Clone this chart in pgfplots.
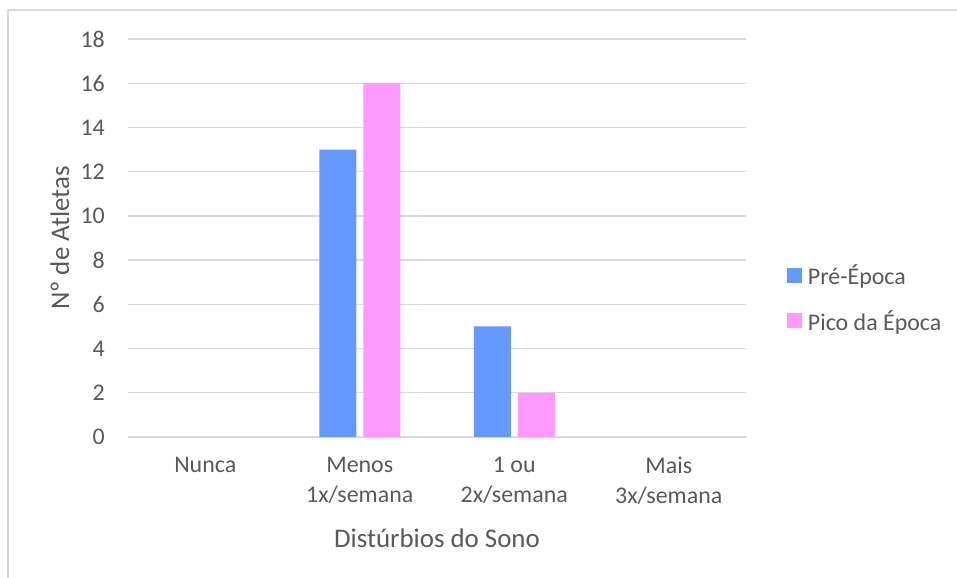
\documentclass[border=0pt]{standalone}
\usepackage{pgfplots}
\pgfplotsset{compat=1.18}
\usepackage{fontspec}
\setmainfont{Carlito}
\definecolor{preblue}{HTML}{6699FF}
\definecolor{picopink}{HTML}{FF99FF}
\definecolor{gridgray}{HTML}{D9D9D9}
\definecolor{textgray}{HTML}{595959}
\begin{document}
\begin{tikzpicture}[x=1bp,y=1bp]
	\useasboundingbox (0,0) rectangle (957,578);
	\draw[gridgray, line width=1.3bp] (8,-5) -- (8,568) -- (965,568);
	\begin{axis}[
		at={(128bp,141bp)}, anchor=south west,
		scale only axis, width=618bp, height=398bp,
		xmin=-0.5, xmax=3.5, ymin=0, ymax=18,
		ybar=7bp, bar width=37bp,
		axis lines*=left,
		y axis line style={draw=none},
		x axis line style={gridgray, line width=1.3bp},
		major tick length=0pt,
		ymajorgrids, grid style={gridgray, line width=1.3bp},
		xtick={0,1,2,3},
		xticklabels={Nunca, {Menos\\1x/semana}, {1 ou\\2x/semana}, {Mais\\3x/semana}},
		ytick={0,2,...,18},
		/pgf/number format/assume math mode=true,
		xticklabel style={align=center, font=\fontsize{24}{30}\selectfont, text=textgray, inner sep=0pt, yshift=-20bp},
		yticklabel style={font=\fontsize{24}{28}\selectfont, text=textgray, inner sep=0pt, xshift=-23bp},
		xlabel={Distúrbios do Sono},
		ylabel={Nº de Atletas},
		xlabel style={at={(axis description cs:0.5,-0.254)}, anchor=center, font=\fontsize{27}{32}\selectfont, text=textgray},
		ylabel style={at={(axis description cs:-0.1102,0.5)}, anchor=center, font=\fontsize{27}{32}\selectfont, text=textgray},
		legend style={at={(axis description cs:1.066,0.349)}, anchor=west, draw=none, fill=none,
			font=\fontsize{24}{28}\selectfont, text=textgray, row sep=20bp, column sep=4bp, inner sep=0pt},
		legend cell align=left,
		legend image code/.code={\fill[#1] (0bp,-7.5bp) rectangle (15bp,7.5bp);},
	]
		\addplot[fill=preblue, draw=none] coordinates {
		( 1, 13 )
		( 2, 5 )
		};
		\addlegendentry{Pré-Época}
		\addplot[fill=picopink, draw=none] coordinates {
		( 1, 16 )
		( 2, 2 )
		};
		\addlegendentry{Pico da Época}
	\end{axis}
\end{tikzpicture}
\end{document}
